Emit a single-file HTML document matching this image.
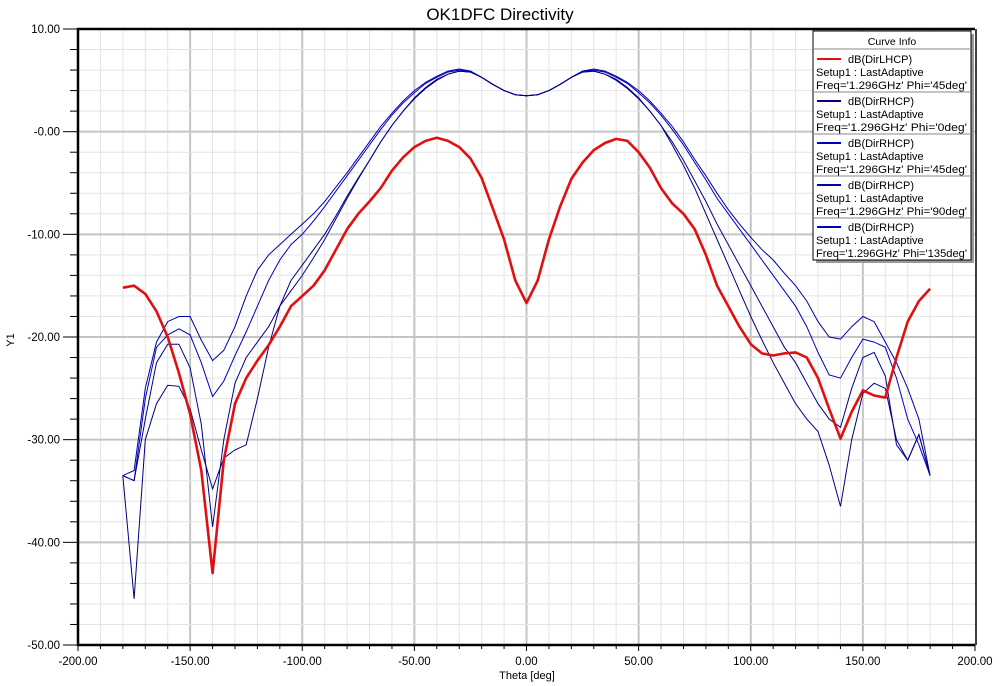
<!DOCTYPE html>
<html><head><meta charset="utf-8"><style>
html,body{margin:0;padding:0;background:#fff;}
svg{display:block;font-family:"Liberation Sans",Arial,sans-serif;}
</style></head><body>
<svg id="s" width="1006" height="686" viewBox="0 0 1006 686" xmlns="http://www.w3.org/2000/svg">
<rect width="1006" height="686" fill="#fff"/>
<text x="500" y="20" font-size="17" text-anchor="middle" fill="#000">OK1DFC Directivity</text>
<g id="grid"></g>
<g id="curves" fill="none"></g>
<g id="axes"></g>
<text x="527" y="679" font-size="11" text-anchor="middle">Theta [deg]</text>
<text x="14" y="340" font-size="11" text-anchor="middle" transform="rotate(-90 14 340)">Y1</text>
<g id="legend">
<rect x="816" y="34" width="158" height="229" fill="#999"/>
<rect x="813" y="31" width="158" height="229" fill="#fff" stroke="#000" stroke-width="1"/>
<text x="892" y="45" font-size="10.5" text-anchor="middle">Curve Info</text>
</g>
</svg>
<script>
var NS="http://www.w3.org/2000/svg";
function el(p,t,a,txt){var e=document.createElementNS(NS,t);for(var k in a)e.setAttribute(k,a[k]);if(txt!==undefined)e.textContent=txt;p.appendChild(e);return e;}
var X0=78,X1=975,Y0=29,Y1=645;
function px(t){return X0+(t+200)*(X1-X0)/400;}
function py(v){return Y0+(10-v)*(Y1-Y0)/60;}
var g=document.getElementById('grid');
for(var t=-190;t<200;t+=10){var maj=(t%50===0);el(g,'line',{x1:px(t),x2:px(t),y1:Y0,y2:Y1,stroke:maj?'#c4c4c4':'#e4e4e4','stroke-width':maj?2:1});}
for(var v=-48;v<10;v+=2){var maj=(v%10===0);el(g,'line',{x1:X0,x2:X1,y1:py(v),y2:py(v),stroke:maj?'#c4c4c4':'#e4e4e4','stroke-width':maj?2:1});}
var a=document.getElementById('axes');
el(a,'line',{x1:X0,x2:X0,y1:Y0-1,y2:Y1+1,stroke:'#000','stroke-width':2.5});
el(a,'line',{x1:X0-1,x2:X1,y1:Y0,y2:Y0,stroke:'#000','stroke-width':2.5});
el(a,'line',{x1:X0-1,x2:X1,y1:Y1,y2:Y1,stroke:'#000','stroke-width':2.5});
el(a,'line',{x1:X1+1,x2:X1+1,y1:Y0,y2:Y1,stroke:'#000','stroke-width':1.5});
for(var v=-50;v<=10;v+=2){var maj=(v%10===0);el(a,'line',{x1:maj?63:70,x2:X0,y1:py(v),y2:py(v),stroke:'#000','stroke-width':1});
 if(maj)el(a,'text',{x:60,y:py(v)+4,'font-size':11.5,'text-anchor':'end'},(v===0?'-0.00':v.toFixed(2)));}
for(var t=-200;t<=200;t+=10){var maj=(t%50===0);el(a,'line',{x1:px(t),x2:px(t),y1:Y1,y2:Y1+(maj?6:4),stroke:'#000','stroke-width':1});
 if(maj)el(a,'text',{x:px(t),y:665,'font-size':11.5,'text-anchor':'middle'},t.toFixed(2));}
function mk(obj){var ks=Object.keys(obj).map(Number).sort(function(a,b){return a-b});return ks.map(function(k){return px(k).toFixed(1)+','+py(obj[k]).toFixed(1)}).join(' ');}
function full(left,mainL,right){var o={};for(var k in left)o[k]=left[k];for(var k in mainL){o[k]=mainL[k];o[-k]=mainL[k];}for(var k in right)o[k]=right[k];return o;}
var red={"-180":-15.2,"-175":-15,"-170":-15.8,"-165":-17.5,"-160":-20,"-155":-23.5,"-150":-27.5,"-145":-33,"-140":-43,"-135":-32,"-130":-26.5,"-125":-24,"-120":-22.3,"-115":-20.8,"-110":-19,"-105":-17,"-100":-16,"-95":-15,"-90":-13.5,"-85":-11.5,"-80":-9.5,"-75":-8,"-70":-6.8,"-65":-5.5,"-60":-3.8,"-55":-2.5,"-50":-1.5,"-45":-0.9,"-40":-0.6,"-35":-0.9,"-30":-1.5,"-25":-2.6,"-20":-4.5,"-15":-7.5,"-10":-10.5,"-5":-14.5,"0":-16.7,"5":-14.5,"10":-10.5,"15":-7.3,"20":-4.6,"25":-3,"30":-1.8,"35":-1.1,"40":-0.7,"45":-0.9,"50":-2,"55":-3.5,"60":-5.5,"65":-7,"70":-8,"75":-9.5,"80":-12,"85":-15,"90":-17,"95":-19,"100":-20.7,"105":-21.6,"110":-21.8,"115":-21.6,"120":-21.5,"125":-22,"130":-24,"135":-27,"140":-29.9,"145":-27.3,"150":-25.2,"155":-25.7,"160":-25.9,"165":-22,"170":-18.5,"175":-16.5,"180":-15.3};
var A=full({"-180":-33.5,"-175":-33,"-170":-25,"-165":-20.5,"-160":-18.5,"-155":-18,"-150":-18,"-145":-20.3,"-140":-22.3,"-135":-21.3,"-130":-19,"-125":-16,"-120":-13.5,"-115":-12,"-110":-11,"-105":-10,"-100":-9,"-95":-8,"-90":-6.8,"-85":-5.4,"-80":-4,"-75":-2.5,"-70":-1},
{"65":0.5,"60":1.8,"55":3,"50":4,"45":4.8,"40":5.4,"35":5.9,"30":6.1,"25":5.9,"20":5.3,"15":4.6,"10":4,"5":3.6,"0":3.5},
{"70":-1,"75":-2.7,"80":-4.3,"85":-6,"90":-7.6,"95":-9,"100":-10.3,"105":-11.5,"110":-12.5,"115":-13.8,"120":-15,"125":-16.5,"130":-18.5,"135":-20,"140":-20.2,"145":-19,"150":-18,"155":-18.5,"160":-20.5,"165":-22.5,"170":-25,"175":-28,"180":-33.5});
var B=full({"-180":-33.5,"-175":-34,"-170":-26,"-165":-21,"-160":-19.8,"-155":-19.2,"-150":-19.8,"-145":-22.5,"-140":-25.8,"-135":-24.3,"-130":-21.8,"-125":-19.5,"-120":-17,"-115":-14.5,"-110":-12.5,"-105":-11,"-100":-10,"-95":-8.7,"-90":-7.3,"-85":-5.8,"-80":-4.3,"-75":-2.8,"-70":-1.3},
{"65":0.2,"60":1.6,"55":2.8,"50":3.8,"45":4.7,"40":5.3,"35":5.8,"30":6.0,"25":5.9,"20":5.3,"15":4.6,"10":4,"5":3.6,"0":3.5},
{"70":-1.3,"75":-3,"80":-4.7,"85":-6.5,"90":-8,"95":-9.5,"100":-11,"105":-12.5,"110":-14,"115":-15.5,"120":-17,"125":-19,"130":-21.5,"135":-23.7,"140":-24,"145":-22,"150":-20.2,"155":-20.5,"160":-21,"165":-24,"170":-28,"175":-30.5,"180":-33.5});
var C=full({"-180":-33.5,"-175":-34,"-170":-28,"-165":-22.5,"-160":-20.7,"-155":-20.7,"-150":-23,"-145":-28.5,"-140":-38.5,"-135":-30,"-130":-24.5,"-125":-22,"-120":-20.5,"-115":-19,"-110":-17,"-105":-15.5,"-100":-14,"-95":-12.3,"-90":-10.5,"-85":-8.5,"-80":-6.5,"-75":-4.6,"-70":-2.8,"-65":-1},
{"60":0.6,"55":2,"50":3.2,"45":4.2,"40":5,"35":5.6,"30":5.9,"25":5.8,"20":5.3,"15":4.6,"10":4,"5":3.6,"0":3.5},
{"65":-1,"70":-2.8,"75":-4.8,"80":-6.8,"85":-9,"90":-11,"95":-13,"100":-15,"105":-17,"110":-19,"115":-21,"120":-22.5,"125":-24.5,"130":-26.5,"135":-28,"140":-28.8,"145":-25,"150":-22,"155":-21.5,"160":-23.8,"165":-30.5,"170":-32,"175":-29.5,"180":-33.5});
var D=full({"-180":-33.5,"-175":-45.5,"-170":-30,"-165":-26.5,"-160":-24.7,"-155":-24.8,"-150":-27,"-145":-31,"-140":-34.8,"-135":-31.8,"-130":-31,"-125":-30.5,"-120":-26,"-115":-21,"-110":-17,"-105":-14.5,"-100":-13,"-95":-11.5,"-90":-10,"-85":-8.2,"-80":-6.3,"-75":-4.5,"-70":-2.8,"-65":-1},
{"60":0.6,"55":2,"50":3.3,"45":4.3,"40":5.1,"35":5.6,"30":5.9,"25":5.8,"20":5.3,"15":4.6,"10":4,"5":3.6,"0":3.5},
{"65":-1.3,"70":-3.3,"75":-5.5,"80":-8,"85":-10.5,"90":-13,"95":-15.5,"100":-18,"105":-20.3,"110":-22.5,"115":-24.5,"120":-26.5,"125":-28,"130":-29.2,"135":-32.5,"140":-36.5,"145":-30,"150":-25.5,"155":-24.5,"160":-25,"165":-30,"170":-32,"175":-29.5,"180":-33.5});
var c=document.getElementById('curves');
[[D,'#000080'],[A,'#0000a8'],[B,'#0000c0'],[C,'#000090']].forEach(function(p){el(c,'polyline',{points:mk(p[0]),stroke:p[1],'stroke-width':1});});
el(c,'polyline',{points:mk(red),stroke:'#e01010','stroke-width':2.6,'stroke-linejoin':'round'});
var L=document.getElementById('legend');
el(L,'line',{x1:813,x2:971,y1:49,y2:49,stroke:'#888'});
var ent=[['#e01010','dB(DirLHCP)',"Freq='1.296GHz' Phi='45deg'"],['#000080','dB(DirRHCP)',"Freq='1.296GHz' Phi='0deg'"],['#0000c0','dB(DirRHCP)',"Freq='1.296GHz' Phi='45deg'"],['#0000a8','dB(DirRHCP)',"Freq='1.296GHz' Phi='90deg'"],['#0000c0','dB(DirRHCP)',"Freq='1.296GHz' Phi='135deg'"]];
ent.forEach(function(e,i){var y=50+i*42;
 if(i>0)el(L,'line',{x1:813,x2:971,y1:y,y2:y,stroke:'#888'});
 el(L,'line',{x1:817,x2:841,y1:y+9,y2:y+9,stroke:e[0],'stroke-width':2});
 el(L,'text',{x:848,y:y+13,'font-size':11},e[1]);
 el(L,'text',{x:816,y:y+26,'font-size':11},'Setup1 : LastAdaptive');
 el(L,'text',{x:816,y:y+39,'font-size':11,textLength:151,lengthAdjust:'spacingAndGlyphs'},e[2]);});
</script>
</body></html>
